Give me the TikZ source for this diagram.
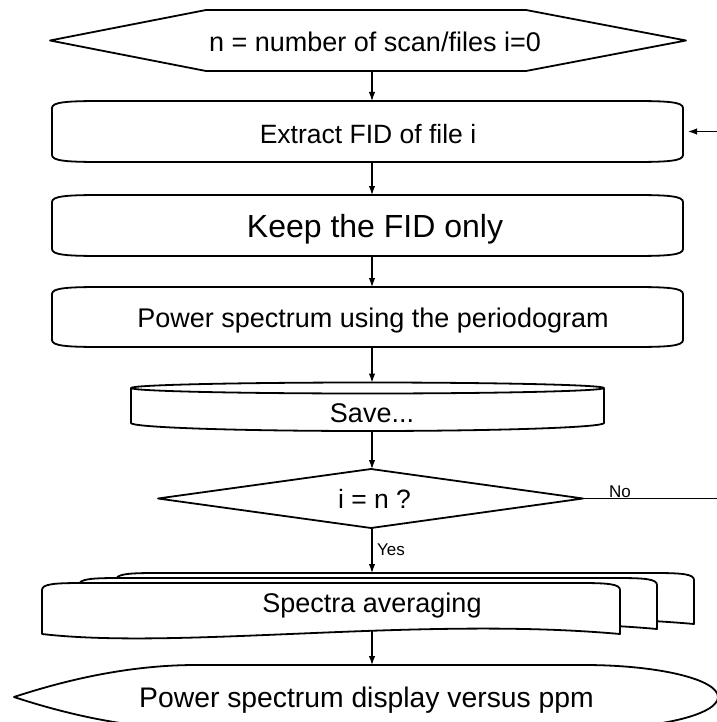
\documentclass[tikz,border=0pt]{standalone}
\usepackage{fontspec}
\setmainfont{Liberation Sans}
\usetikzlibrary{arrows.meta}

\tikzset{
  shp/.style={draw=black, line width=1.8pt, fill=white, line join=round},
  flow/.style={line width=1.2pt, -{Latex[length=9pt,width=6.5pt]}},
  txt/.style={anchor=base, inner sep=0pt, font=\fontsize{27}{30}\selectfont},
  lbl/.style={anchor=base west, inner sep=0pt, font=\fontsize{17}{20}\selectfont},
}

% soft box: (x1, y1, x2, y2, name)
\newcommand{\softbox}[5]{
    \draw[shp] (#1,{#2+7}) .. controls (#1,{#2+1}) and ({#1+15},#2) .. ({#1+50},#2)
      -- ({#3-50},#2) .. controls ({#3-15},#2) and (#3,{#2+1}) .. (#3,{#2+7})
      -- (#3,{#4-7}) .. controls (#3,{#4-1}) and ({#3-15},#4) .. ({#3-50},#4)
      -- ({#1+50},#4) .. controls ({#1+15},#4) and (#1,{#4-1}) .. (#1,{#4-7}) -- cycle;
    \coordinate (#5-n) at (372,#2);
    \coordinate (#5-s) at (372,#4);
    \coordinate (#5-e) at (#3,{(#2+#4)/2});
}
% one sheet of the stack: (x1, y1, x2, y2)
\newcommand{\sheet}[4]{
    \draw[shp] (#1,{#2+7}) .. controls (#1,{#2+1}) and ({#1+12},#2) .. ({#1+40},#2)
      -- ({#3-40},#2) .. controls ({#3-12},#2) and (#3,{#2+1}) .. (#3,{#2+7})
      -- (#3,#4) .. controls ({#3-200},{#4-18}) and ({#1+138},{#4+16}) .. (#1,#4) -- cycle;
}

\begin{document}
\begin{tikzpicture}[x=1pt, y=-1pt]
  \useasboundingbox (0,0) rectangle (716,722);

  % start
  \draw[shp] (50,40.5) -- (206,10) -- (526,10) -- (686,40.5) -- (526,71) -- (206,71) -- cycle;
  \coordinate (start-s) at (372,71);
  \node[txt] (start) at (375,52) {n = number of scan/files i=0};

  \softbox{52}{101}{683}{162}{ext}
  \node[txt, font=\fontsize{26.5}{30}\selectfont] (extT) at (368,144) {Extract FID of file i};

  \softbox{52}{195}{683}{256}{keep}
  \node[txt, font=\fontsize{32}{36}\selectfont] (keepT) at (375,237) {Keep the FID only};

  \softbox{52}{287}{683}{347}{pow}
  \node[txt] (powT) at (373,327) {Power spectrum using the periodogram};

  % save
  \draw[shp] (131,388) -- (131,423) .. controls (131,427.4) and (237,431) .. (367.5,431)
    .. controls (498,431) and (604,427.4) .. (604,423) -- (604,388);
  \draw[shp] (367.5,388) ellipse[x radius=236.5, y radius=5.5];
  \coordinate (save-n) at (372,382.5);
  \coordinate (save-s) at (372,431);
  \node[txt] (saveT) at (372,422) {Save...};

  % test
  \draw[shp] (158,498.5) -- (371,469) -- (583,498.5) -- (371,528) -- cycle;
  \coordinate (dec-s) at (372,528);
  \coordinate (dec-e) at (583,498.5);
  \coordinate (dec-n) at (372,469);
  \node[txt, font=\fontsize{26.5}{30}\selectfont] (decT) at (374.5,508) {i = n ?};

  % stack
  \sheet{116}{573}{694}{624}
  \sheet{79}{578}{657}{629}
  \sheet{42}{583}{620}{634}
  \coordinate (stk-n) at (372,573);
  \coordinate (stk-s) at (372,631);
  \node[txt] (stkT) at (372,612) {Spectra averaging};

  % display
  \draw[shp] (14,697) .. controls (90,672) and (150,665) .. (196,665) -- (584,665)
    .. controls (658,665) and (718,679.3) .. (718,697)
    .. controls (718,714.7) and (658,729) .. (584,729)
    -- (196,729) .. controls (150,729) and (90,722) .. (14,697) -- cycle;
  \coordinate (disp-n) at (372,665);
  \node[txt, font=\fontsize{28.3}{32}\selectfont] (dispT) at (366.5,707) {Power spectrum display versus ppm};

  \draw[flow] (start-s) -- (ext-n);
  \draw[flow] (ext-s) -- (keep-n);
  \draw[flow] (keep-s) -- (pow-n);
  \draw[flow] (pow-s) -- (save-n);
  \draw[flow] (save-s) -- (dec-n);
  \draw[flow] (dec-s) -- (stk-n);
  \draw[flow] (stk-s) -- (disp-n);
  \draw[flow, shorten >=5pt] (dec-e) -- (722,498.5) |- (ext-e);

  \node[lbl] (no) at (609,497) {No};
  \node[lbl] (yes) at (377,555) {Yes};

\end{tikzpicture}
\end{document}
